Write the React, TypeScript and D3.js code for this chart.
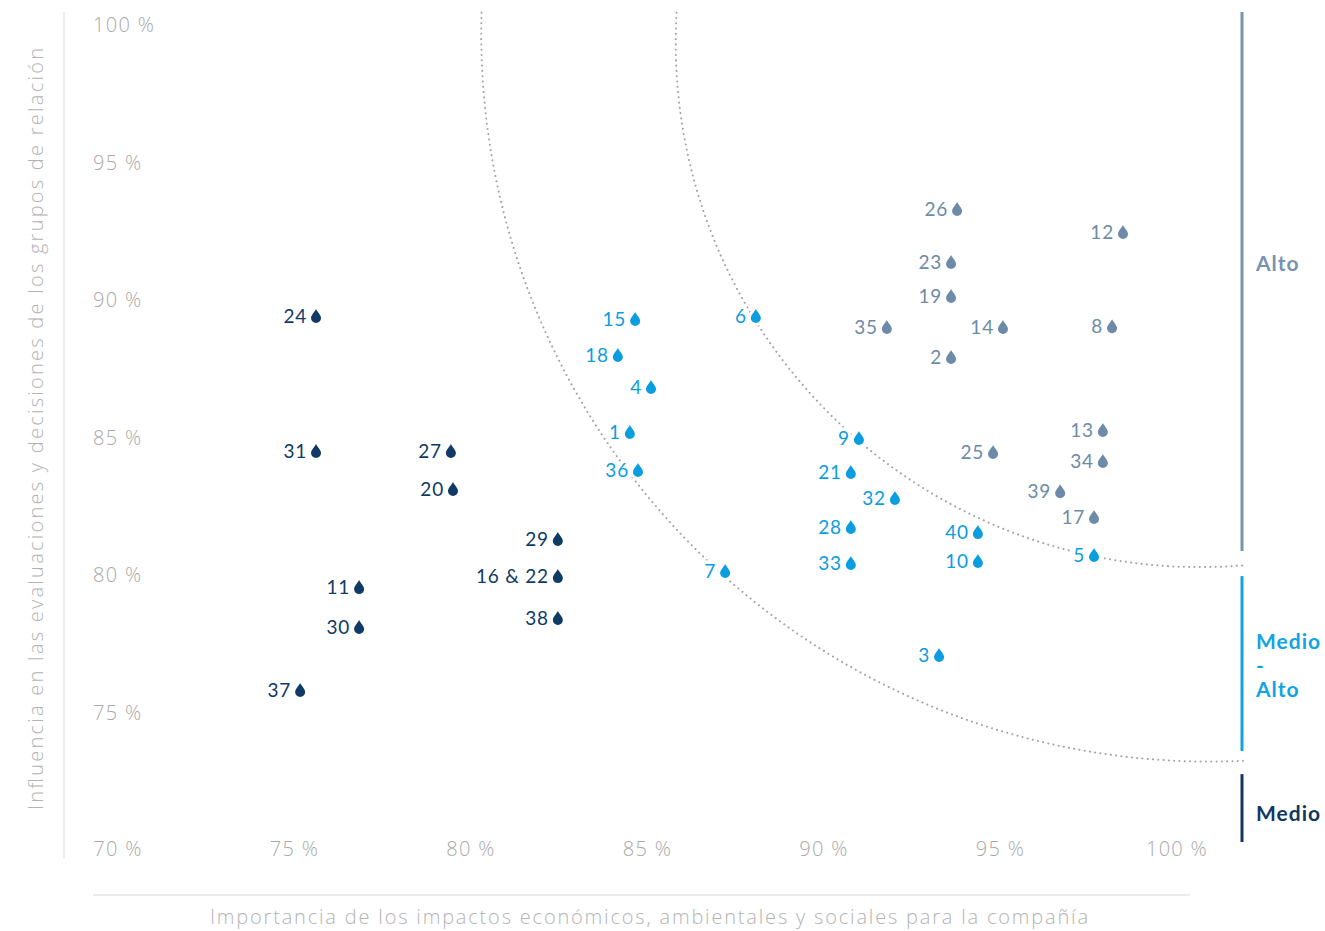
import React, { useEffect } from "react";
import * as d3 from "d3";

const W = 1325;
const H = 931;

const NAVY = "#0f3a65";
const BLUE = "#0a9de0";
const GREY = "#6d8ba8";

// Material topics: [label, x importance %, y influence %]
const medioLabels = ["24", "31", "27", "20", "11", "30", "37", "29", "16 & 22", "38"];
const medioX = [75.61, 75.61, 79.43, 79.49, 76.83, 76.83, 75.16, 82.46, 82.46, 82.46];
const medioY = [89.42, 84.51, 84.51, 83.13, 79.56, 78.11, 75.82, 81.31, 79.96, 78.44];

const medioAltoLabels = ["15", "18", "4", "1", "36", "6", "7", "9", "21", "32", "28", "33", "40", "10", "5", "3"];
const medioAltoX = [84.65, 84.16, 85.1, 84.5, 84.73, 88.07, 87.2, 90.99, 90.76, 92.01, 90.76, 90.76, 94.36, 94.36, 97.65, 93.26];
const medioAltoY = [89.31, 88.0, 86.84, 85.2, 83.82, 89.42, 80.15, 84.98, 83.75, 82.8, 81.75, 80.44, 81.56, 80.51, 80.73, 77.09];

const altoLabels = ["26", "23", "19", "35", "14", "2", "12", "8", "13", "34", "25", "39", "17"];
const altoX = [93.77, 93.6, 93.6, 91.78, 95.07, 93.6, 98.47, 98.16, 97.9, 97.9, 94.79, 96.69, 97.65];
const altoY = [93.31, 91.38, 90.15, 89.02, 89.02, 87.93, 92.47, 89.05, 85.27, 84.15, 84.47, 83.05, 82.11];

const xTicks = [70, 75, 80, 85, 90, 95, 100];
const yTicks = [75, 80, 85, 90, 95, 100];

// threshold arcs (circles): center in data units, radius in x-percent units
const arcCx = [100.93, 100.65];
const arcCy = [99.71, 99.35];
const arcR = [20.64, 14.85];

const legendNames = [["Alto"], ["Medio", "-", "Alto"], ["Medio"]];
const legendColors = ["#7893ae", "#12a3e2", "#11375f"];
const legendTop = [100.47, 79.96, 72.76];
const legendBottom = [80.87, 73.6, 70.29];
const legendLabelY = [91.31, 77.56, 71.31];

const xTitle = "Importancia de los impactos económicos, ambientales y sociales para la compañía";
const yTitle = "Influencia en las evaluaciones y decisiones de los grupos de relación";

const x = d3.scaleLinear().domain([70, 100]).range([118, 1177]);
const y = d3.scaleLinear().domain([70, 100]).range([850, 25]);

const DROP = "M0,-8 C1.5,-5 5,-2 5,1 A5,5 0 1,1 -5,1 C-5,-2 -1.5,-5 0,-8 Z";

const FONT = "Lato, 'Open Sans', sans-serif";
const TFONT = "'Open Sans', Lato, sans-serif";

function arcPath(i: number) {
  const cx = x(arcCx[i]);
  const cy = y(arcCy[i]);
  const r = (arcR[i] * (x(75) - x(70))) / 5;
  const yTop = y(100.45);
  const a0 = Math.PI - Math.asin((yTop - cy) / r);
  const xEnd = 1243;
  const a1 = Math.acos((xEnd - cx) / r);
  const p = d3.path();
  p.arc(cx, cy, r, a0, a1, true);
  return p.toString();
}

function Group({ labels, xs, ys, color }: { labels: string[]; xs: number[]; ys: number[]; color: string }) {
  return (
    <g>
      {labels.map((l, i) => {
        const px = x(xs[i]);
        const py = y(ys[i]);
        return (
          <g key={l}>
            <text
              x={px - 9}
              y={py + 7}
              textAnchor="end"
              fontFamily={FONT}
              fontSize={19}
              letterSpacing={0.8}
              fill={color}
              stroke="#fff"
              strokeWidth={7}
              strokeLinejoin="round"
              style={{ paintOrder: "stroke" }}
            >
              {l}
            </text>
            <path d={DROP} transform={`translate(${px},${py + 1})`} fill={color} stroke="#fff" strokeWidth={6} style={{ paintOrder: "stroke" }} />
          </g>
        );
      })}
    </g>
  );
}

export default function App() {
  useEffect(() => {
    document.body.style.margin = "0";
  }, []);
  const tickColor = "#a9a9a9";
  return (
    <svg width={W} height={H} style={{ display: "block", background: "#fff" }}>
      {/* axes lines */}
      <line x1={64} x2={64} y1={12} y2={858} stroke="#ececec" strokeWidth={2} />
      <line x1={93} x2={1190} y1={895} y2={895} stroke="#ececec" strokeWidth={2} />

      {/* y tick labels */}
      {yTicks.map((t) => (
        <text key={"y" + t} x={93} y={y(t) + 7} fontFamily={TFONT} fontWeight={300} fontSize={20} fill={tickColor} letterSpacing={1.3}>
          {t} %
        </text>
      ))}
      {/* x tick labels */}
      {xTicks.map((t) => (
        <text key={"x" + t} x={x(t)} y={856} textAnchor="middle" fontFamily={TFONT} fontWeight={300} fontSize={20} fill={tickColor} letterSpacing={1.3}>
          {t} %
        </text>
      ))}

      {/* axis titles */}
      <text x={649} y={924} textAnchor="middle" fontFamily={TFONT} fontWeight={300} fontSize={20} fill="#b3b3b3" textLength={878} lengthAdjust="spacing">
        {xTitle}
      </text>
      <text
        transform="translate(43,429) rotate(-90)"
        textAnchor="middle"
        fontFamily={TFONT}
        fontWeight={300}
        fontSize={20}
        fill="#b3b3b3"
        textLength={762}
        lengthAdjust="spacing"
      >
        {yTitle}
      </text>

      {/* threshold arcs */}
      {arcR.map((_, i) => (
        <path key={"arc" + i} d={arcPath(i)} fill="none" stroke="#a3a3a3" strokeWidth={2} strokeDasharray="0.1 5.2" strokeLinecap="round" />
      ))}

      {/* points */}
      <Group labels={medioLabels} xs={medioX} ys={medioY} color={NAVY} />
      <Group labels={medioAltoLabels} xs={medioAltoX} ys={medioAltoY} color={BLUE} />
      <Group labels={altoLabels} xs={altoX} ys={altoY} color={GREY} />

      {/* legend bands */}
      {legendNames.map((names, i) => {
        const y0 = y(legendTop[i]);
        const y1 = y(legendBottom[i]);
        const ly = y(legendLabelY[i]);
        return (
          <g key={"lg" + i}>
            <line x1={1242} x2={1242} y1={y0} y2={y1} stroke={legendColors[i]} strokeWidth={3} />
            {names.map((nm, j) => (
              <text
                key={j}
                x={1256}
                y={ly + 7 + j * 24}
                fontFamily={FONT}
                fontWeight={700}
                fontSize={21}
                fill={legendColors[i]}
                letterSpacing={1}
              >
                {nm}
              </text>
            ))}
          </g>
        );
      })}
    </svg>
  );
}
